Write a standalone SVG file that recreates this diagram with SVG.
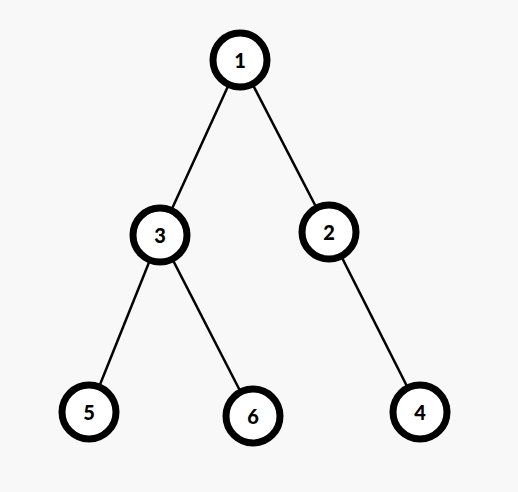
<svg xmlns="http://www.w3.org/2000/svg" width="518" height="492" viewBox="0 0 518 492">
<style>
.n circle{fill:#fff;stroke:#000;stroke-width:7}
.n text{font-family:Lato,"DejaVu Sans",sans-serif;font-weight:900;font-size:20px;fill:#000;text-anchor:middle;dominant-baseline:central}
#edges line{stroke:#000;stroke-width:2.5}
</style>
<rect width="518" height="492" fill="#f8f8f8"/>
<g id="edges">
<line x1="240" y1="60" x2="160" y2="235"/>
<line x1="240" y1="60" x2="329" y2="232"/>
<line x1="160" y1="235" x2="89" y2="412"/>
<line x1="160" y1="235" x2="253" y2="416"/>
<line x1="329" y1="232" x2="420" y2="412"/>
</g>
<g id="n1" class="n"><circle cx="240" cy="60" r="27"/><text x="240" y="60">1</text></g>
<g id="n3" class="n"><circle cx="160" cy="235" r="27"/><text x="160" y="235">3</text></g>
<g id="n2" class="n"><circle cx="329" cy="232" r="27"/><text x="329" y="232">2</text></g>
<g id="n5" class="n"><circle cx="89" cy="412" r="27"/><text x="89" y="412">5</text></g>
<g id="n6" class="n"><circle cx="253" cy="416" r="27"/><text x="253" y="416">6</text></g>
<g id="n4" class="n"><circle cx="420" cy="412" r="27"/><text x="420" y="412">4</text></g>
</svg>
